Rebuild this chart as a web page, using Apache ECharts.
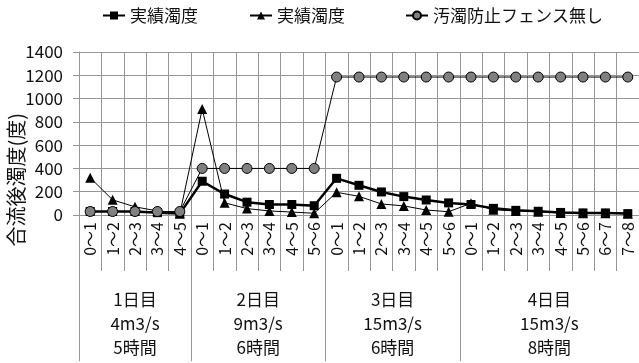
<!DOCTYPE html>
<html>
<head>
<meta charset="utf-8">
<script src="https://cdn.jsdelivr.net/npm/echarts@6/dist/echarts.min.js"></script>
<style>
  html, body { margin: 0; padding: 0; background: #fff; }
  #chart { width: 639px; height: 363px; }
</style>
</head>
<body>
<div id="chart"></div>
<script>
// Hourly slots, grouped by day
const hourLabels = [
  '0〜1', '1〜2', '2〜3', '3〜4', '4〜5',
  '0〜1', '1〜2', '2〜3', '3〜4', '4〜5', '5〜6',
  '0〜1', '1〜2', '2〜3', '3〜4', '4〜5', '5〜6',
  '0〜1', '1〜2', '2〜3', '3〜4', '4〜5', '5〜6', '6〜7', '7〜8'
];
const dayLabels = ['1日目\n4m3/s\n5時間', '2日目\n9m3/s\n6時間', '3日目\n15m3/s\n6時間', '4日目\n15m3/s\n8時間'];
const dayBounds = [0, 5, 11, 17, 25];
const dayCenters = [2.5, 8, 14, 21];

const legendLabels = ['実績濁度', '実績濁度', '汚濁防止フェンス無し'];
const yTitle = '合流後濁度(度)';

// Turbidity after confluence (degrees)
const measuredA = [
  30, 30, 30, 20, 12,
  290, 180, 110, 90, 90, 80,
  315, 255, 198, 158, 129, 104,
  90, 57, 40, 32, 22, 18, 18, 12
];
const measuredB = [
  320, 130, 70, 35, 10,
  910, 105, 55, 35, 25, 15,
  195, 160, 95, 78, 43, 28,
  100, 45, 35, 28, 18, 15, 15, 10
];
const noFence = [
  30, 30, 30, 30, 30,
  400, 400, 400, 400, 400, 400,
  1185, 1185, 1185, 1185, 1185, 1185,
  1185, 1185, 1185, 1185, 1185, 1185, 1185, 1185
];

const seriesKeys = ['measuredA', 'measuredB', 'noFence'];
const FONT = '"Noto Sans CJK JP", "Noto Sans", sans-serif';
const GRID_COLOR = '#959595';
const legendLeft = [97, 244, 400];

const chart = echarts.init(document.getElementById('chart'), null, { renderer: 'canvas' });

chart.setOption({
  animation: false,
  backgroundColor: '#fff',
  textStyle: { fontFamily: FONT, color: '#111' },
  grid: { left: 79, right: -2, top: 52, bottom: 148, containLabel: false },
  legend: seriesKeys.map((k, i) => ({
    data: [k],
    left: legendLeft[i],
    top: 2,
    itemWidth: 22,
    itemHeight: 10,
    itemGap: 4,
    formatter: () => legendLabels[i],
    textStyle: { fontFamily: FONT, fontSize: 17, color: '#111' },
    selectedMode: false
  })),
  graphic: [{
    type: 'text',
    left: 6,
    top: 113,
    rotation: Math.PI / 2,
    style: { text: yTitle, font: '20px ' + FONT, fill: '#111' }
  }],
  xAxis: [{
    type: 'category',
    data: hourLabels,
    boundaryGap: true,
    axisLine: { show: true, lineStyle: { color: GRID_COLOR, width: 1 } },
    axisTick: { show: true, interval: 0, length: 56, lineStyle: { color: GRID_COLOR } },
    splitLine: { show: true, interval: 0, lineStyle: { color: GRID_COLOR, width: 1 } },
    axisLabel: {
      interval: 0, rotate: 90, margin: 7,
      fontFamily: FONT, fontSize: 16, color: '#111'
    }
  }, {
    type: 'value',
    position: 'bottom',
    min: 0,
    max: 25,
    axisLine: { show: false },
    splitLine: { show: false },
    axisTick: { show: true, customValues: dayBounds, length: 146, lineStyle: { color: GRID_COLOR } },
    axisLabel: {
      show: true,
      customValues: dayCenters,
      margin: 73,
      lineHeight: 24,
      fontFamily: FONT, fontSize: 17, color: '#111',
      formatter: v => dayLabels[dayCenters.indexOf(v)]
    }
  }],
  yAxis: {
    type: 'value',
    min: 0,
    max: 1400,
    interval: 200,
    axisLine: { show: true, lineStyle: { color: GRID_COLOR } },
    axisTick: { show: true, length: 6, lineStyle: { color: GRID_COLOR } },
    splitLine: { show: true, lineStyle: { color: GRID_COLOR, width: 1 } },
    axisLabel: {
      fontFamily: FONT, fontSize: 17, color: '#111', margin: 16,
      formatter: v => String(v)
    }
  },
  series: [{
    name: 'measuredA',
    type: 'line',
    data: measuredA,
    symbol: 'rect',
    symbolSize: 9,
    itemStyle: { color: '#000' },
    lineStyle: { color: '#000', width: 2.5 }
  }, {
    name: 'measuredB',
    type: 'line',
    data: measuredB,
    symbol: 'triangle',
    symbolSize: 10,
    itemStyle: { color: '#000' },
    lineStyle: { color: '#000', width: 1 }
  }, {
    name: 'noFence',
    type: 'line',
    data: noFence,
    symbol: 'circle',
    symbolSize: 10,
    itemStyle: { color: '#808080', borderColor: '#000', borderWidth: 1 },
    lineStyle: { color: '#000', width: 1 }
  }]
});
</script>
</body>
</html>
